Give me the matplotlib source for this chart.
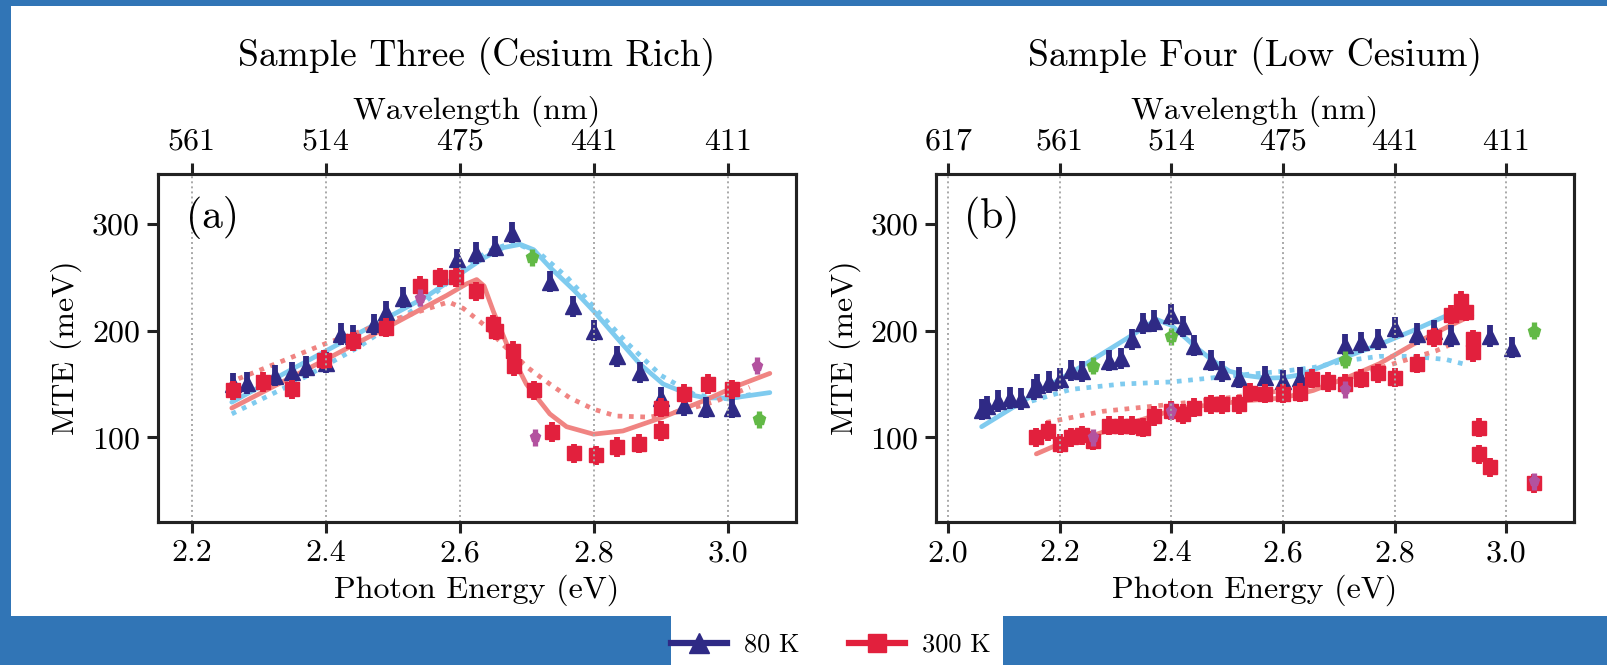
import matplotlib
matplotlib.use("Agg")
import matplotlib.pyplot as plt
from matplotlib.patches import Rectangle
from matplotlib.lines import Line2D

plt.rcParams['font.family'] = 'serif'
plt.rcParams['font.serif'] = ['cmr10', 'DejaVu Serif']
plt.rcParams['mathtext.fontset'] = 'cm'
plt.rcParams['axes.formatter.use_mathtext'] = True

# ---------------- data ----------------
titles = ["Sample Three (Cesium Rich)", "Sample Four (Low Cesium)"]
panel_labels = ["(a)", "(b)"]
legend_labels = ["80 K", "300 K"]

# Panel (a)
a_ticks = [2.2, 2.4, 2.6, 2.8, 3.0]
a_ticklabels = ["2.2", "2.4", "2.6", "2.8", "3.0"]
a_wl_labels = ["561", "514", "475", "441", "411"]

a80_E = [2.262, 2.283, 2.324, 2.350, 2.370, 2.400, 2.423, 2.441, 2.472, 2.490, 2.515,
         2.595, 2.624, 2.652, 2.678, 2.735, 2.769, 2.800, 2.834, 2.868, 2.900, 2.934,
         2.967, 3.005]
a80_M = [150, 151, 158, 161, 166, 170, 197, 195, 206, 218, 231,
         267, 273, 279, 292, 246, 223, 200, 176, 161, 137, 130,
         128, 128]

a300_E = [2.262, 2.306, 2.349, 2.397, 2.441, 2.490, 2.540, 2.571, 2.594, 2.624, 2.650,
          2.654, 2.679, 2.681, 2.710, 2.738, 2.770, 2.803, 2.834, 2.867, 2.900, 2.900,
          2.934, 2.970, 3.005]
a300_M = [144, 152, 145, 173, 190, 203, 242, 250, 250, 237, 206,
          200, 181, 167, 144, 105, 85, 83, 91, 94, 128, 106,
          141, 150, 145]

a_green_E = [2.707, 3.046]
a_green_M = [269, 117]
a_mag_E = [2.541, 2.712, 3.043]
a_mag_M = [231, 100, 167]

a_fit80_E = [2.26, 2.35, 2.45, 2.55, 2.635, 2.665, 2.69, 2.71, 2.735, 2.77, 2.80, 2.833,
             2.868, 2.903, 2.943, 2.967, 3.007, 3.062]
a_fit80_M = [133, 164, 198, 232, 268, 278, 281, 276, 259, 238, 218, 194,
             169, 150, 140, 137, 137, 142]
a_alt80_E = [2.26, 2.35, 2.45, 2.55, 2.60, 2.64, 2.68, 2.72, 2.76, 2.80, 2.85, 2.90,
             2.95, 3.00, 3.04]
a_alt80_M = [122, 150, 185, 228, 255, 274, 283, 272, 250, 222, 188, 158,
             140, 136, 141]
a_fit300_E = [2.26, 2.40, 2.50, 2.58, 2.61, 2.625, 2.636, 2.650, 2.674, 2.699, 2.734,
              2.759, 2.799, 2.843, 2.903, 2.962, 3.012, 3.062]
a_fit300_M = [127.5, 173, 206, 233, 244, 248, 242, 218, 181, 150, 122,
              110, 103, 106, 119, 134, 148, 160]
a_alt300_E = [2.27, 2.40, 2.50, 2.583, 2.605, 2.635, 2.664, 2.702, 2.734, 2.764, 2.799,
              2.833, 2.883, 2.933, 2.982, 3.032]
a_alt300_M = [155, 188, 210, 227, 221, 206, 187, 165, 150, 137, 126.5,
              120, 119, 125, 134, 147]

# Panel (b)
b_ticks = [2.0, 2.2, 2.4, 2.6, 2.8, 3.0]
b_ticklabels = ["2.0", "2.2", "2.4", "2.6", "2.8", "3.0"]
b_wl_labels = ["617", "561", "514", "475", "441", "411"]

b80_E = [2.060, 2.070, 2.090, 2.110, 2.130, 2.153, 2.160, 2.180, 2.200, 2.220, 2.239,
         2.288, 2.310, 2.330, 2.349, 2.369, 2.400, 2.420, 2.440, 2.470, 2.490, 2.521,
         2.568, 2.600, 2.630, 2.710, 2.740, 2.770, 2.800, 2.840, 2.870, 2.900, 2.925,
         2.970, 3.009]
b80_M = [126, 129, 134, 137, 136, 145, 149, 152, 155, 163, 162,
         172, 174, 192, 207, 209, 215, 204, 186, 172, 162, 156,
         157, 153, 156, 187, 189, 192, 203, 197, 200, 195, 222,
         195, 184]

b300_E = [2.158, 2.179, 2.200, 2.220, 2.239, 2.259, 2.288, 2.310, 2.330, 2.349, 2.369,
          2.400, 2.421, 2.440, 2.470, 2.490, 2.521, 2.540, 2.568, 2.600, 2.630, 2.651,
          2.680, 2.710, 2.740, 2.770, 2.800, 2.840, 2.870, 2.900, 2.919, 2.927, 2.940,
          2.940, 2.950, 2.950, 2.970, 3.049]
b300_M = [100, 106, 94, 100, 102, 97, 111, 111, 111, 109, 120,
          125, 122, 128, 131, 131, 131, 142, 141, 141, 142, 155,
          152, 150, 155, 160, 156, 169, 194, 215, 228, 218, 192,
          180, 109, 84, 72, 57]

b_green_E = [2.259, 2.400, 2.710, 3.049]
b_green_M = [167, 195, 173, 200]
b_mag_E = [2.259, 2.400, 2.710, 3.049]
b_mag_M = [100, 125, 145, 59]

b_fit80_E = [2.060, 2.15, 2.25, 2.33, 2.373, 2.40, 2.415, 2.445, 2.474, 2.504, 2.534,
             2.570, 2.600, 2.630, 2.665, 2.710, 2.772, 2.832, 2.892, 2.922]
b_fit80_M = [110, 139, 170, 196, 210.6, 205, 198, 184, 172, 162, 158,
             155.5, 156, 158.6, 165.5, 175, 187, 200, 214, 221.5]
b_alt80_E = [2.13, 2.22, 2.31, 2.40, 2.45, 2.534, 2.600, 2.654, 2.710, 2.772, 2.832,
             2.892, 2.922]
b_alt80_M = [131, 145, 150, 152, 154.6, 159, 162, 165.5, 171.7, 176, 176,
             173, 169]
b_fit300_E = [2.158, 2.20, 2.266, 2.33, 2.40, 2.42, 2.534, 2.600, 2.654, 2.710, 2.772,
              2.832, 2.892, 2.928]
b_fit300_M = [84.5, 94, 103, 114, 125, 127.5, 134.4, 137, 144, 155, 169,
              187, 203, 212]
b_alt300_E = [2.176, 2.278, 2.40, 2.50, 2.60, 2.70, 2.795, 2.873, 2.913]
b_alt300_M = [114, 124.5, 131, 137, 144, 153, 168.6, 181, 190]

err80 = 10
err300 = 9
err_extra = 8

# ---------------- style ----------------
C80 = "#2f2a85"
C300 = "#e2203d"
CGREEN = "#62b946"
CMAG = "#b3529f"
CFIT80 = "#7fcbef"
CFIT300 = "#f08482"
BG = "#3175b6"
FS = 23

W, H = 1607, 665
fig = plt.figure(figsize=(W / 100, H / 100), dpi=100)
fig.patch.set_facecolor(BG)
fig.add_artist(Rectangle((11 / W, (H - 616) / H), 1 - 11 / W, (616 - 6) / H,
                         transform=fig.transFigure, facecolor="white", edgecolor="none", zorder=0))
fig.add_artist(Rectangle((671 / W, 0), (1003 - 671) / W, (H - 616) / H + 0.002,
                         transform=fig.transFigure, facecolor="white", edgecolor="none", zorder=0))

bottom = (H - 521.6) / H
height = (521.6 - 174) / H
ax_a = fig.add_axes([158 / W, bottom, (796 - 158) / W, height])
ax_b = fig.add_axes([936.4 / W, bottom, (1573.5 - 936.4) / W, height])

panels = [
    (ax_a, (2.150, 3.101), a_ticks, a_ticklabels, a_wl_labels,
     a80_E, a80_M, a300_E, a300_M, a_green_E, a_green_M, a_mag_E, a_mag_M,
     a_fit80_E, a_fit80_M, a_alt80_E, a_alt80_M, a_fit300_E, a_fit300_M, a_alt300_E, a_alt300_M),
    (ax_b, (1.979, 3.120), b_ticks, b_ticklabels, b_wl_labels,
     b80_E, b80_M, b300_E, b300_M, b_green_E, b_green_M, b_mag_E, b_mag_M,
     b_fit80_E, b_fit80_M, b_alt80_E, b_alt80_M, b_fit300_E, b_fit300_M, b_alt300_E, b_alt300_M),
]

dotted = (0, (1, 1.4))
for i, p in enumerate(panels):
    (ax, xl, ticks, tlabels, wl, e80, m80, e300, m300, eg, mg, em, mm,
     f80e, f80m, d80e, d80m, f300e, f300m, d300e, d300m) = p

    ax.plot(f80e, f80m, color=CFIT80, lw=3.4, zorder=1.2, solid_capstyle='round')
    ax.plot(d80e, d80m, color=CFIT80, lw=3.4, ls=dotted, zorder=1.2)
    ax.plot(f300e, f300m, color=CFIT300, lw=3.4, zorder=1.3, solid_capstyle='round')
    ax.plot(d300e, d300m, color=CFIT300, lw=3.4, ls=dotted, zorder=1.3)

    ax.errorbar(e80, m80, yerr=err80, fmt='^', color=C80, ms=11.5, elinewidth=4.2,
                capsize=0, mec=C80, zorder=2)
    ax.errorbar(e300, m300, yerr=err300, fmt='s', color=C300, ms=9.5, elinewidth=4.2,
                capsize=0, mec=C300, zorder=2.1)
    ax.errorbar(eg, mg, yerr=err_extra, fmt='p', color=CGREEN, ms=9, elinewidth=3.8,
                capsize=0, mec=CGREEN, zorder=2.2)
    ax.errorbar(em, mm, yerr=err_extra, fmt='p', color=CMAG, ms=8, elinewidth=3.8,
                capsize=0, mec=CMAG, zorder=2.2)

    ax.set_xlim(*xl)
    ax.set_ylim(21, 347)
    ax.set_xticks(ticks)
    ax.set_xticklabels(tlabels)
    ax.set_yticks([100, 200, 300])
    ax.set_yticklabels(["100", "200", "300"])
    ax.grid(axis='x', color='#a8a8a8', ls=(0, (1, 1.6)), lw=1.4)
    ax.set_axisbelow(False)
    ax.tick_params(axis='both', direction='out', length=8, width=2.2, labelsize=FS,
                   pad=5, right=False, top=False, color='#222222')
    for s in ax.spines.values():
        s.set_linewidth(2.2)
        s.set_color('#222222')
    ax.set_xlabel("Photon Energy (eV)", fontsize=FS, labelpad=5)
    ax.set_ylabel("MTE (meV)", fontsize=FS, labelpad=7)
    ax.text(0.044, 0.875, panel_labels[i], transform=ax.transAxes, fontsize=30,
            va='center', ha='left')

    top = ax.twiny()
    top.set_xlim(*xl)
    top.set_xticks(ticks)
    top.set_xticklabels(wl)
    top.tick_params(axis='x', direction='out', length=8, width=2.2, labelsize=FS,
                    pad=5, color='#222222')
    for s in top.spines.values():
        s.set_linewidth(2.2)
        s.set_color('#222222')
    top.set_xlabel("Wavelength (nm)", fontsize=FS, labelpad=7)

    pos = ax.get_position()
    fig.text(pos.x0 + pos.width / 2, 1 - 66 / H, titles[i], fontsize=27,
             ha='center', va='baseline')

handles = [Line2D([], [], color=C80, lw=4.5, marker='^', ms=14),
           Line2D([], [], color=C300, lw=4.5, marker='s', ms=13)]
fig.legend(handles, legend_labels, loc='center', bbox_to_anchor=(831 / W, 1 - 645 / H),
           ncol=2, frameon=False, fontsize=19, handlelength=2.1, handletextpad=0.65,
           columnspacing=1.9, borderpad=0, borderaxespad=0)

fig.savefig("out.png", dpi=100, facecolor=fig.get_facecolor())
